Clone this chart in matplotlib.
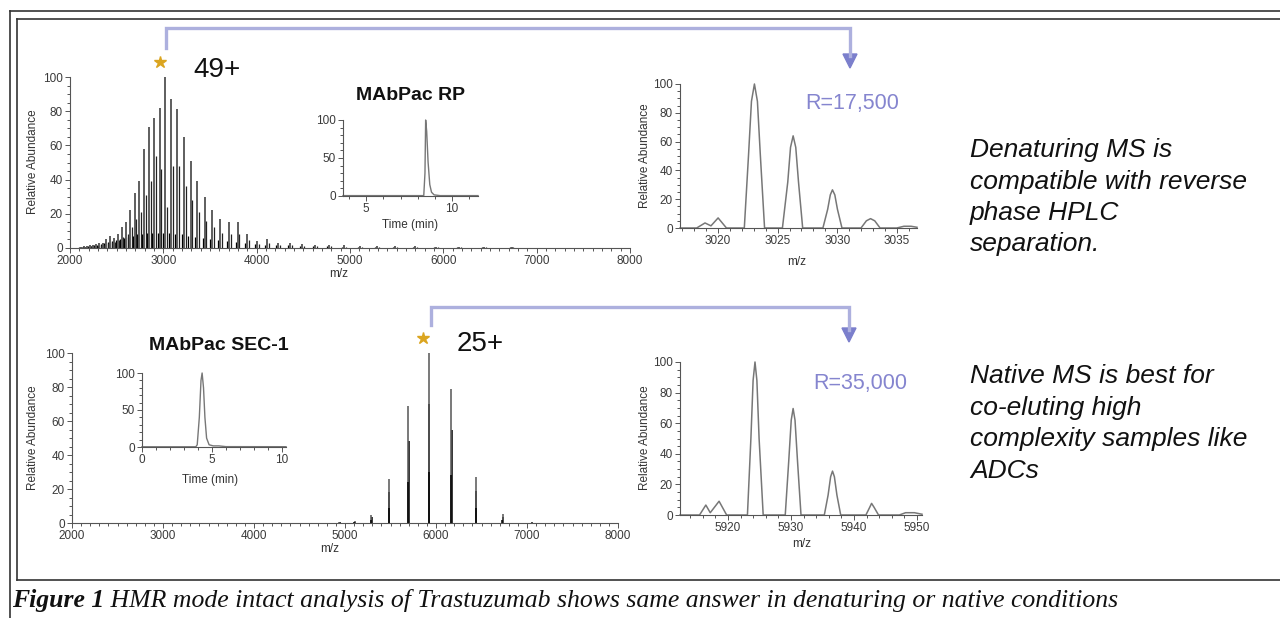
import matplotlib
matplotlib.use("Agg")
import matplotlib.pyplot as plt
from matplotlib.patches import Polygon
from matplotlib.ticker import MultipleLocator

plt.rcParams['font.family'] = ['Liberation Sans', 'DejaVu Sans']

W, H = 1280, 618

# denaturing (MAbPac RP) full scan, charge states 70+ ... 22+
dn_mz = [2116.1, 2146.8, 2178.4, 2210.9, 2244.3, 2278.8, 2314.4, 2351.2, 2389.1, 2428.2,
         2468.7, 2510.5, 2553.8, 2598.5, 2644.9, 2693.0, 2742.9, 2794.6, 2848.3, 2904.1,
         2962.2, 3022.6, 3085.6, 3151.2, 3219.7, 3291.2, 3366.0, 3444.3, 3526.2, 3612.2,
         3702.5, 3797.4, 3897.3, 4002.6, 4113.8, 4231.3, 4355.7, 4487.7, 4627.9, 4777.1,
         4936.3, 5106.5, 5288.9, 5484.7, 5695.6, 5923.4, 6170.2, 6438.4, 6731.0]
dn_main = [0.8, 1.0, 1.2, 2.0, 2.0, 2.5, 3.0, 3.0, 5.0, 7.0,
           6.0, 8.0, 12, 15, 22, 32, 39, 58, 71, 76,
           82, 100, 87, 81, 65, 51, 39, 30, 22.5, 17,
           15, 15, 8, 4, 5, 3, 3, 2.5, 2, 1.8,
           1.5, 1.3, 1.2, 1.0, 1.0, 0.8, 0.8, 0.6, 0.5]
dn_side = [0.4, 0.5, 0.6, 1.0, 1.0, 1.3, 1.6, 1.6, 2.7, 3.8,
           3.3, 4.4, 6.6, 8, 12, 17, 21, 31, 39, 54,
           46, 24, 48, 48, 36, 28, 21, 16, 12, 9,
           8, 8, 4.4, 2.2, 2.7, 1.6, 1.6, 1.4, 1.1, 1.0,
           0.8, 0.7, 0.6, 0.5, 0.5, 0.4, 0.4, 0.3, 0.3]
dn_low = [0.5, 0.6, 0.8, 1, 1.2, 1.5, 2, 2.5, 3, 3.5,
          4, 4.5, 5, 6, 6.5, 7, 8, 8, 9, 9,
          9, 9, 9, 8, 8, 7, 6.5, 6, 5, 4.5,
          4, 3.5, 3, 2.5, 2, 1.8, 1.5, 1.2, 1, 1,
          0.8, 0.7, 0.6, 0.5, 0.5, 0.4, 0.4, 0.3, 0.3]

# native (MAbPac SEC-1) full scan, charge states 30+ ... 21+
nt_mz = [4936.3, 5106.5, 5288.9, 5484.7, 5695.6, 5923.4, 6170.2, 6438.4, 6731.0, 7051.5]
nt_main = [0.6, 1.2, 4.7, 25.8, 68.8, 100, 79, 26.8, 5.3, 0.6]
nt_mid = [0.4, 0.8, 3.3, 18, 48, 70, 55, 19, 3.7, 0.4]
nt_low = [0.2, 0.4, 1.6, 9, 24, 30, 28, 9, 2, 0.2]

# zoomed 49+ profile
rp_zoom_mz = [3016.8, 3018.2, 3018.9, 3019.4, 3020.0, 3020.7, 3022.2, 3022.55, 3022.8,
              3023.05, 3023.3, 3023.55, 3023.9, 3025.4, 3025.85, 3026.08, 3026.3, 3026.52,
              3026.75, 3027.1, 3028.8, 3029.2, 3029.42, 3029.6, 3029.8, 3030.02, 3030.4,
              3032.0, 3032.45, 3032.8, 3033.15, 3033.6, 3035.0, 3035.6, 3036.2, 3036.7]
rp_zoom_int = [0, 0, 3.5, 1.5, 7, 0, 0, 50, 88, 100, 88, 50, 0, 0, 32, 56, 64, 56, 32, 0,
               0, 13, 23, 26.5, 23, 13, 0, 0, 5, 6.5, 5, 0, 0, 1.2, 1.2, 0.5]

# zoomed 25+ profile
nt_zoom_mz = [5912.4, 5915.5, 5916.5, 5917.2, 5918.6, 5919.8, 5923.1, 5923.65, 5924.0,
              5924.3, 5924.6, 5924.95, 5925.6, 5929.1, 5929.65, 5930.05, 5930.35, 5930.65,
              5931.05, 5931.6, 5935.3, 5935.9, 5936.3, 5936.6, 5936.9, 5937.3, 5937.9,
              5941.9, 5942.5, 5942.8, 5943.2, 5943.9, 5947.2, 5948.2, 5949.6, 5950.8]
nt_zoom_int = [0, 0, 6.5, 1.5, 9, 0, 0, 50, 88, 100, 88, 50, 0, 0, 35, 62, 69.6, 62, 35, 0,
               0, 13, 25, 28.7, 25, 13, 0, 0, 5, 7.6, 5, 0, 0, 1.5, 1.5, 0.5]

# chromatograms
rp_time = [3.66, 8.35, 8.42, 8.46, 8.52, 8.6, 8.7, 8.8, 8.95, 9.3, 11.5]
rp_int = [0.5, 0.5, 30, 100, 85, 45, 15, 5, 1.5, 0.5, 0.5]
sec_time = [0.0, 3.85, 3.95, 4.1, 4.22, 4.3, 4.4, 4.5, 4.62, 4.8, 5.1, 5.5, 6.0, 10.3]
sec_int = [0.3, 0.3, 3, 40, 90, 100, 80, 40, 12, 3, 1.5, 1.5, 0.5, 0.4]

fig = plt.figure(figsize=(W / 100, H / 100), dpi=100)


def ax_at(x0, y0, x1, y1):
    return fig.add_axes([x0 / W, 1 - y1 / H, (x1 - x0) / W, (y1 - y0) / H])


def style(ax, fs, xmaj, xmin, ymaj, ymin):
    for s in ['top', 'right']:
        ax.spines[s].set_visible(False)
    for s in ['left', 'bottom']:
        ax.spines[s].set_color('#555555')
        ax.spines[s].set_linewidth(0.8)
    ax.xaxis.set_major_locator(MultipleLocator(xmaj))
    ax.xaxis.set_minor_locator(MultipleLocator(xmin))
    ax.yaxis.set_major_locator(MultipleLocator(ymaj))
    ax.yaxis.set_minor_locator(MultipleLocator(ymin))
    ax.tick_params(which='both', direction='out', colors='#555555', labelcolor='#3a3a3a',
                   labelsize=fs, width=0.7, pad=1.5)
    ax.tick_params(which='major', length=3.5)
    ax.tick_params(which='minor', length=2)
    ax.patch.set_alpha(0)


# --- top: denaturing full scan
a1 = ax_at(70, 77, 630, 248)
a1.vlines([m - 22 for m in dn_mz], 0, dn_low, colors='black', lw=0.9, clip_on=False)
a1.vlines([m + 18 for m in dn_mz], 0, dn_side, colors='#222222', lw=0.9, clip_on=False)
a1.vlines(dn_mz, 0, dn_main, colors='#333333', lw=1.1, clip_on=False)
a1.set_xlim(2000, 8000)
a1.set_ylim(0, 100)
style(a1, 8.5, 1000, 100, 20, 5)

# --- top inset: RP chromatogram
a2 = ax_at(343, 120, 478, 196)
a2.plot(rp_time, rp_int, color='#777777', lw=1.0, clip_on=False)
a2.set_xlim(3.66, 11.5)
a2.set_ylim(0, 100)
style(a2, 8.5, 5, 1, 50, 10)

# --- top zoom
a3 = ax_at(680, 84, 917, 228)
a3.plot(rp_zoom_mz, rp_zoom_int, color='#777777', lw=1.1, clip_on=False)
a3.set_xlim(3016.8, 3036.7)
a3.set_ylim(0, 100)
style(a3, 8.5, 5, 1, 20, 5)

# --- bottom: native full scan
b1 = ax_at(72, 353, 618, 523)
b1.vlines([m + 4 for m in nt_mz], 0, nt_mid, colors='black', lw=1.1, clip_on=False)
b1.vlines(nt_mz, 0, nt_main, colors='#555555', lw=1.1, clip_on=False)
b1.vlines([m - 3 for m in nt_mz], 0, nt_low, colors='black', lw=1.1, clip_on=False)
b1.set_xlim(2000, 8000)
b1.set_ylim(0, 100)
style(b1, 8.5, 1000, 100, 20, 5)

# --- bottom inset: SEC chromatogram
b2 = ax_at(142, 373, 286, 447)
b2.plot(sec_time, sec_int, color='#777777', lw=1.0, clip_on=False)
b2.set_xlim(0, 10.3)
b2.set_ylim(0, 100)
style(b2, 8.5, 5, 1, 50, 10)

# --- bottom zoom
b3 = ax_at(680, 362, 922, 515)
b3.plot(nt_zoom_mz, nt_zoom_int, color='#777777', lw=1.1, clip_on=False)
b3.set_xlim(5912.4, 5950.8)
b3.set_ylim(0, 100)
style(b3, 8.5, 10, 2, 20, 5)

# --- overlay in pixel coordinates
ov = fig.add_axes([0, 0, 1, 1])
ov.set_xlim(0, W)
ov.set_ylim(H, 0)
ov.axis('off')

frame = dict(color='#333333', lw=1.2)
ov.plot([10, 10], [11, H], **frame)
ov.plot([10, W], [11, 11], **frame)
ov.plot([17, 17], [19, 580], **frame)
ov.plot([17, W], [19, 19], **frame)
ov.plot([17, W], [580, 580], **frame)

lab = dict(fontsize=8.5, color='#333333', ha='center', va='center')
ov.text(33, 162, 'Relative Abundance', rotation=90, **lab)
ov.text(33, 438, 'Relative Abundance', rotation=90, **lab)
ov.text(645, 156, 'Relative Abundance', rotation=90, **lab)
ov.text(645, 438, 'Relative Abundance', rotation=90, **lab)
ov.text(339, 274, 'm/z', **lab)
ov.text(330, 549, 'm/z', **lab)
ov.text(797, 262, 'm/z', **lab)
ov.text(802, 544, 'm/z', **lab)
ov.text(410, 225, 'Time (min)', **lab)
ov.text(210, 480, 'Time (min)', **lab)

ov.text(411, 95, 'MAbPac RP', fontsize=14, weight='bold', ha='center', va='center', color='#111111')
ov.text(219, 345, 'MAbPac SEC-1', fontsize=14, weight='bold', ha='center', va='center', color='#111111')
ov.text(217, 70, '49+', fontsize=20, ha='center', va='center', color='#111111')
ov.text(480, 344, '25+', fontsize=20, ha='center', va='center', color='#111111')
ov.text(852, 103, 'R=17,500', fontsize=15.5, ha='center', va='center', color='#8585cf')
ov.text(860, 383, 'R=35,000', fontsize=15.5, ha='center', va='center', color='#8585cf')

ov.plot([160], [62], marker='*', ms=9, color='#dba520', mec='#dba520')
ov.plot([423], [338], marker='*', ms=9, color='#dba520', mec='#dba520')

arrow_line = '#adb0de'
arrow_head = '#7b7fcc'
ov.plot([166, 166, 850, 850], [48, 28, 28, 56], color=arrow_line, lw=2.4, solid_joinstyle='miter')
ov.add_patch(Polygon([[843, 54], [857, 54], [850, 68]], closed=True, color=arrow_head))
ov.plot([431, 431, 849, 849], [325, 307, 307, 330], color=arrow_line, lw=2.4, solid_joinstyle='miter')
ov.add_patch(Polygon([[842, 328], [856, 328], [849, 342]], closed=True, color=arrow_head))

# right-hand notes
r = fig.canvas.get_renderer()
note_kw = dict(style='italic', color='#111111', ha='left', va='baseline')
probe = ov.text(0, -100, 'compatible with reverse', fontsize=16, **note_kw)
note_fs = 16 * 278 / probe.get_window_extent(r).width
probe.remove()
top_lines = ['Denaturing MS is', 'compatible with reverse', 'phase HPLC', 'separation.']
bot_lines = ['Native MS is best for', 'co-eluting high', 'complexity samples like', 'ADCs']
for i, t in enumerate(top_lines):
    ov.text(970, 157 + 31.5 * i, t, fontsize=note_fs, **note_kw)
for i, t in enumerate(bot_lines):
    ov.text(970, 383 + 31.5 * i, t, fontsize=note_fs, **note_kw)

# caption
cap_kw = dict(family=['Liberation Serif', 'DejaVu Serif'], style='italic', color='#111111',
              va='baseline', ha='left')
cap_rest = ' HMR mode intact analysis of Trastuzumab shows same answer in denaturing or native conditions'


def caption(fs):
    t1 = ov.text(12, 607, 'Figure 1', fontsize=fs, weight='bold', **cap_kw)
    x1 = t1.get_window_extent(r).x1
    t2 = ov.text(x1, 607, cap_rest, fontsize=fs, **cap_kw)
    return t1, t2


c1, c2 = caption(16)
span = c2.get_window_extent(r).x1 - 12
c1.remove()
c2.remove()
caption(16 * 1108 / span)

fig.savefig('out.png', dpi=100)
